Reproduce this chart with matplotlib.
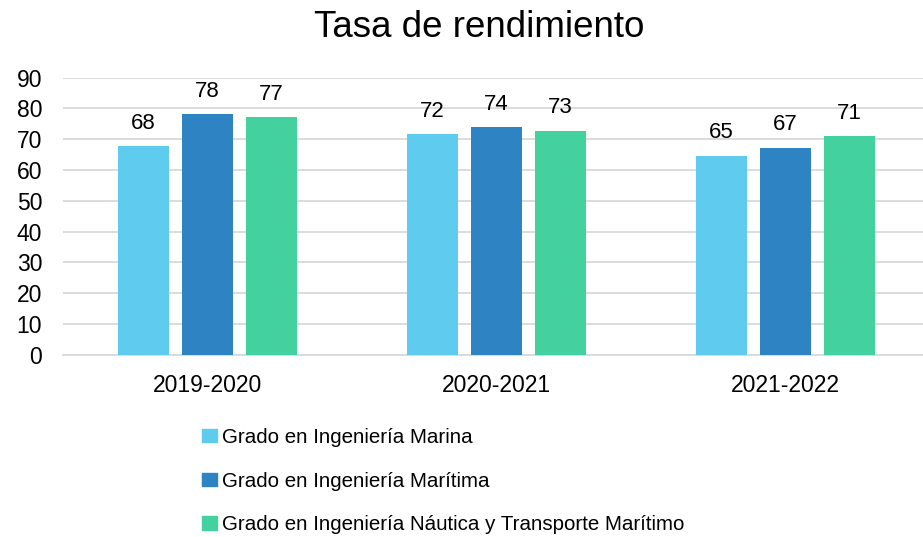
import matplotlib
matplotlib.use("Agg")
import matplotlib.pyplot as plt
from matplotlib.patches import Patch
import numpy as np

plt.rcParams['font.family'] = ['Liberation Sans', 'DejaVu Sans']

# data
years = ["2019-2020", "2020-2021", "2021-2022"]
series_names = [
    "Grado en Ingeniería Marina",
    "Grado en Ingeniería Marítima",
    "Grado en Ingeniería Náutica y Transporte Marítimo",
]
marina = [67.8, 71.6, 64.6]
maritima = [78.2, 73.9, 67.2]
nautica = [77.1, 72.8, 70.9]
colors = ["#5FCBEF", "#2E83C2", "#43D1A0"]

W, H = 923, 537
fig = plt.figure(figsize=(W / 100, H / 100), dpi=100)
ax = fig.add_axes([63 / W, 1 - 354.7 / H, 867 / W, (354.7 - 77.7) / H])

x = np.arange(len(years))
step = 0.2215
width = 0.175
for i, (vals, c) in enumerate(zip([marina, maritima, nautica], colors)):
    bars = ax.bar(x + (i - 1) * step, vals, width, color=c, zorder=3)
    ax.bar_label(bars, labels=[f"{v:.0f}" for v in vals], padding=9, fontsize=16)

ax.set_xlim(-0.5, 2.5)
ax.set_ylim(0, 90)
ax.set_yticks(range(0, 91, 10))
ax.grid(axis="y", color="#D9D9D9", linewidth=1.3, zorder=0)
for s in ["top", "right", "left"]:
    ax.spines[s].set_visible(False)
ax.spines["bottom"].set_color("#D9D9D9")
ax.spines["bottom"].set_linewidth(1.3)
ax.set_xticks(x, years)
ax.tick_params(axis="y", length=0, pad=15, labelsize=16.5)
ax.tick_params(axis="x", length=0, pad=14, labelsize=16.5)

fig.text(479 / W, 1 - 37 / H, "Tasa de rendimiento", fontsize=26.5,
         ha="center", va="baseline")

handles = [Patch(color=c) for c in colors]
fig.legend(handles, series_names, loc="upper left",
           bbox_to_anchor=(202 / W, 1 - 428 / H), frameon=False,
           fontsize=14.8, handlelength=0.72, handleheight=0.63,
           handletextpad=0.25, labelspacing=1.2, borderpad=0,
           borderaxespad=0)

fig.savefig("out.png", dpi=100)
